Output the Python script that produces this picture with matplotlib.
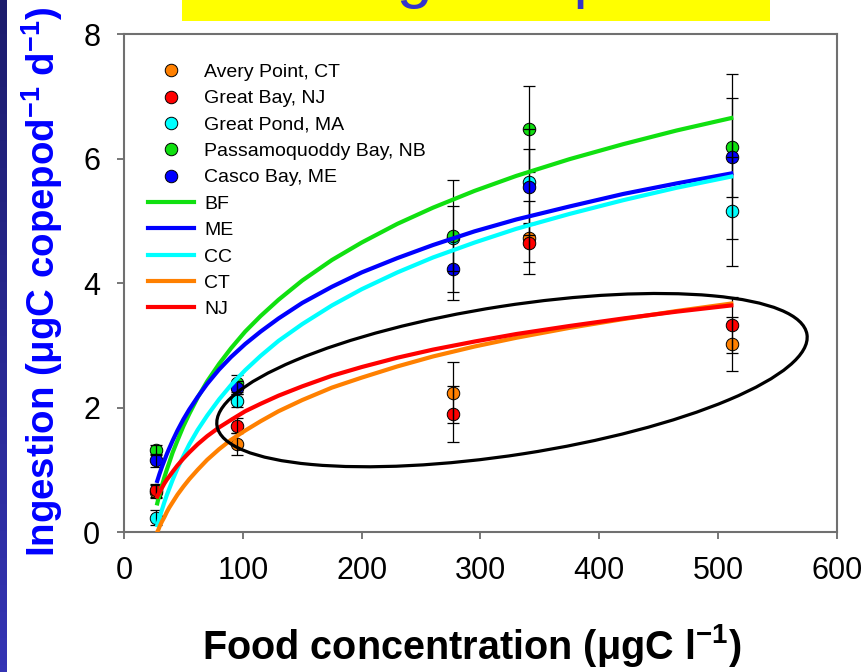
import matplotlib
matplotlib.use("Agg")
import matplotlib.pyplot as plt
import numpy as np
from matplotlib.patches import Ellipse, Rectangle
from matplotlib.transforms import ScaledTranslation

plt.rcParams['font.family'] = ['Liberation Sans', 'DejaVu Sans']
plt.rcParams['mathtext.fontset'] = 'custom'
plt.rcParams['mathtext.rm'] = 'Liberation Sans'
plt.rcParams['mathtext.bf'] = 'Liberation Sans:bold'

# measured ingestion per site at each food level
food = [27, 95, 277, 341, 512]
sites = ['Avery Point, CT', 'Great Bay, NJ', 'Great Pond, MA',
         'Passamoquoddy Bay, NB', 'Casco Bay, ME']
site_colors = ['#ff8000', '#ff0000', '#00ffff', '#10e010', '#0000ff']
avery = [0.65, 1.41, 2.24, 4.73, 3.02]
avery_err = [0.10, 0.18, 0.49, 0.58, 0.43]
great_bay = [0.67, 1.71, 1.89, 4.65, 3.32]
great_bay_err = [0.10, 0.12, 0.45, 0.32, 0.45]
great_pond = [0.23, 2.11, 4.72, 5.62, 5.15]
great_pond_err = [0.12, 0.10, 0.52, 0.85, 0.87]
passamoquoddy = [1.31, 2.39, 4.75, 6.47, 6.18]
passamoquoddy_err = [0.08, 0.14, 0.90, 0.69, 0.80]
casco = [1.15, 2.32, 4.22, 5.55, 6.03]
casco_err = [0.10, 0.10, 0.50, 0.60, 1.32]

# fitted curves
fit_x = [28, 29, 30, 32, 34, 36, 38, 41, 45, 50, 55, 62, 70, 80, 90, 102, 115,
         130, 150, 175, 200, 230, 260, 295, 330, 375, 420, 465, 511]
fit_bf = [0.46, 0.54, 0.61, 0.75, 0.88, 1.00, 1.11, 1.28, 1.47, 1.70, 1.90, 2.16, 2.42, 2.70, 2.95,
          3.22, 3.47, 3.73, 4.04, 4.37, 4.65, 4.95, 5.21, 5.48, 5.72, 5.99, 6.23, 6.45, 6.65]
fit_me = [0.82, 0.88, 0.94, 1.05, 1.15, 1.25, 1.34, 1.47, 1.63, 1.81, 1.97, 2.17, 2.38, 2.61, 2.81,
          3.02, 3.22, 3.43, 3.68, 3.94, 4.17, 4.40, 4.61, 4.83, 5.02, 5.23, 5.43, 5.60, 5.76]
fit_cc = [0.11, 0.17, 0.24, 0.36, 0.48, 0.59, 0.69, 0.84, 1.02, 1.22, 1.41, 1.64, 1.87, 2.13, 2.36,
          2.60, 2.83, 3.07, 3.34, 3.64, 3.90, 4.17, 4.41, 4.65, 4.87, 5.11, 5.33, 5.53, 5.71]
fit_ct = [0.00, 0.04, 0.09, 0.17, 0.24, 0.32, 0.39, 0.48, 0.60, 0.73, 0.85, 1.00, 1.16, 1.33, 1.48,
          1.63, 1.78, 1.94, 2.12, 2.32, 2.48, 2.66, 2.82, 2.98, 3.12, 3.28, 3.42, 3.55, 3.67]
fit_nj = [0.57, 0.61, 0.64, 0.71, 0.78, 0.84, 0.89, 0.97, 1.07, 1.18, 1.28, 1.41, 1.54, 1.68, 1.80,
          1.94, 2.06, 2.19, 2.34, 2.51, 2.65, 2.80, 2.93, 3.06, 3.18, 3.31, 3.43, 3.54, 3.64]
fit_names = ['BF', 'ME', 'CC', 'CT', 'NJ']
fit_colors = ['#10e010', '#0000ff', '#00ffff', '#ff8000', '#ff0000']

x_ticks = [0, 100, 200, 300, 400, 500, 600]
y_ticks = [0, 2, 4, 6, 8]

fig = plt.figure(figsize=(8.67, 6.72), dpi=100)
ax = fig.add_axes([0.1430, 0.2083, 0.8224, 0.7411])

site_vals = [avery, great_bay, great_pond, passamoquoddy, casco]
site_errs = [avery_err, great_bay_err, great_pond_err, passamoquoddy_err, casco_err]
for name, col, vals in zip(sites, site_colors, site_vals):
    ax.plot(food, vals, 'o', ms=9, mfc=col, mec='black', mew=0.7, label=name, zorder=3)
for vals, errs in zip(site_vals, site_errs):
    ax.errorbar(food, vals, yerr=errs, fmt='none', ecolor='black', elinewidth=0.9,
                capsize=4, capthick=0.9, zorder=4)

for name, col, vals in zip(fit_names, fit_colors, [fit_bf, fit_me, fit_cc, fit_ct, fit_nj]):
    ax.plot(fit_x, vals, '-', color=col, lw=3, label=name, zorder=5,
            solid_joinstyle='round')

ax.set_xlim(0, 600)
ax.set_ylim(0, 8)
ax.set_xticks(x_ticks)
ax.set_yticks(y_ticks)
ax.tick_params(labelsize=22, direction='out', length=5, width=1.2, color='#606060')
ax.tick_params(axis='x', pad=12)
ax.tick_params(axis='y', pad=12)
for sp in ax.spines.values():
    sp.set_color('#707070')
    sp.set_linewidth(1.5)

# highlight ellipse round the CT / NJ group
ell_center = (326.5, 2.44)
ell_w, ell_h, ell_angle = 5.97, 1.49, 8.8
trans = fig.dpi_scale_trans + ScaledTranslation(ell_center[0], ell_center[1], ax.transData)
ax.add_patch(Ellipse((0, 0), ell_w, ell_h, angle=ell_angle, transform=trans,
                     fill=False, ec='black', lw=2.3, zorder=6, clip_on=False))

ax.legend(loc='upper left', bbox_to_anchor=(0.171, 0.9056), bbox_transform=fig.transFigure,
          frameon=False, fontsize=14, handlelength=2.37, handletextpad=0.52,
          labelspacing=0.45, borderpad=0, borderaxespad=0)

fig.text(0.0480, 0.580, r'Ingestion (μgC copepod$\mathbf{^{-1}}$ d$\mathbf{^{-1}}$)',
         rotation=90, ha='center', va='center', fontsize=27.6, fontweight='bold', color='#0000ff')
fig.text(0.544, 0.0193, r'Food concentration (μgC l$\mathbf{^{-1}}$)',
         ha='center', va='baseline', fontsize=28.5, fontweight='bold', color='black')

# slide decorations: title box and side bar
fig.patches.append(Rectangle((182 / 867, 1 - 21 / 672), (770 - 182) / 867, 21 / 672,
                             transform=fig.transFigure, fc='#ffff00', ec='none', zorder=0))
fig.text(198 / 867, 1.006, 'Feeding comparison', ha='left', va='baseline',
         fontsize=46.7, color='#3333cc')
bar = fig.add_axes([0, 0, 7 / 867, 1])
bar.imshow(np.linspace(0, 1, 100).reshape(-1, 1), aspect='auto',
           cmap=matplotlib.colors.LinearSegmentedColormap.from_list('b', ['#1c1c6c', '#3434b4']))
bar.axis('off')

fig.savefig('out.png', dpi=100)
